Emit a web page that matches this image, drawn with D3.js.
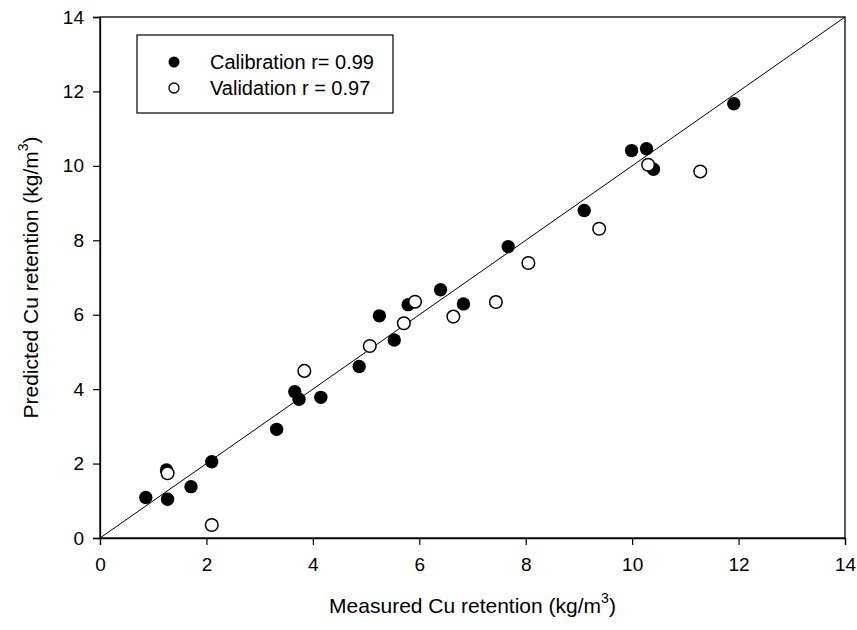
<!DOCTYPE html>
<html><head><meta charset="utf-8">
<script src="https://cdn.jsdelivr.net/npm/d3@7"></script>
<style>body{margin:0;background:#fff}svg{display:block}text{font-family:"Liberation Sans",Arial,sans-serif}</style>
</head><body>
<script>
const calMeasured = [0.86,1.25,1.27,1.71,2.10,3.32,3.66,3.74,4.15,4.87,5.25,5.53,5.79,6.40,6.83,7.67,9.10,9.99,10.27,10.40,11.91];
const calPredicted = [1.09,1.83,1.04,1.38,2.05,2.92,3.93,3.73,3.78,4.61,5.97,5.32,6.27,6.67,6.29,7.83,8.80,10.41,10.46,9.91,11.67];
const valMeasured = [1.27,2.10,3.84,5.07,5.71,5.92,6.64,7.44,8.05,9.38,10.30,11.28];
const valPredicted = [1.74,0.35,4.49,5.16,5.77,6.35,5.95,6.34,7.39,8.31,10.03,9.85];
const tickValues = [0,2,4,6,8,10,12,14];
const legendLabels = ["Calibration r= 0.99","Validation r = 0.97"];

const W=857,H=630, L=100,R=845,T=17,B=538;
const svg=d3.select("body").append("svg").attr("width",W).attr("height",H);
const x=d3.scaleLinear().domain([0,14]).range([L,R]);
const y=d3.scaleLinear().domain([0,14]).range([B,T]);

// frame
svg.append("rect").attr("x",L).attr("y",T).attr("width",R-L).attr("height",B-T)
  .attr("fill","none").attr("stroke","#000").attr("stroke-width",1.3);

const xAx=svg.append("g").attr("transform",`translate(0,${B})`)
  .call(d3.axisBottom(x).tickValues(tickValues).tickSize(7).tickPadding(13).tickFormat(d3.format("d")));
const yAx=svg.append("g").attr("transform",`translate(${L},0)`)
  .call(d3.axisLeft(y).tickValues(tickValues).tickSize(7).tickPadding(9).tickFormat(d3.format("d")));
[xAx,yAx].forEach(g=>{
  g.select(".domain").attr("stroke","#000").attr("stroke-width",1.3);
  g.selectAll(".tick line").attr("stroke","#000").attr("stroke-width",1.2);
  g.selectAll(".tick text").attr("font-size",19).attr("fill","#000").attr("font-family","Liberation Sans, Arial, sans-serif");
});

// 1:1 line
svg.append("line").attr("x1",x(0)).attr("y1",y(0)).attr("x2",x(14)).attr("y2",y(14))
  .attr("stroke","#000").attr("stroke-width",1);

const cal=calMeasured.map((m,i)=>({m,p:calPredicted[i]}));
const val=valMeasured.map((m,i)=>({m,p:valPredicted[i]}));
svg.append("g").selectAll("circle").data(cal).join("circle")
  .attr("cx",d=>x(d.m)).attr("cy",d=>y(d.p)).attr("r",6.7).attr("fill","#000");
svg.append("g").selectAll("circle").data(val).join("circle")
  .attr("cx",d=>x(d.m)).attr("cy",d=>y(d.p)).attr("r",6.3).attr("fill","#fff").attr("stroke","#000").attr("stroke-width",1.5);

// legend
const lg=svg.append("g");
lg.append("rect").attr("x",137).attr("y",35).attr("width",256).attr("height",78)
  .attr("fill","#fff").attr("stroke","#000").attr("stroke-width",1.2);
lg.append("circle").attr("cx",174).attr("cy",62).attr("r",5.5).attr("fill","#000");
lg.append("circle").attr("cx",174).attr("cy",88).attr("r",5).attr("fill","#fff").attr("stroke","#000").attr("stroke-width",1.3);
lg.selectAll("text").data(legendLabels).join("text")
  .attr("x",210).attr("y",(d,i)=>69+i*26).attr("font-size",20).attr("fill","#000").text(d=>d);

// axis titles
const xt=svg.append("text").attr("x",(L+R)/2).attr("y",613).attr("text-anchor","middle").attr("font-size",21);
xt.append("tspan").text("Measured Cu retention (kg/m");
xt.append("tspan").attr("font-size",14).attr("dy",-10).text("3");
xt.append("tspan").attr("dy",10).text(")");

const yt=svg.append("text").attr("transform",`translate(38,${(T+B)/2}) rotate(-90)`).attr("text-anchor","middle").attr("font-size",21);
yt.append("tspan").text("Predicted Cu retention (kg/m");
yt.append("tspan").attr("font-size",14).attr("dy",-10).text("3");
yt.append("tspan").attr("dy",10).text(")");
</script>
</body></html>
